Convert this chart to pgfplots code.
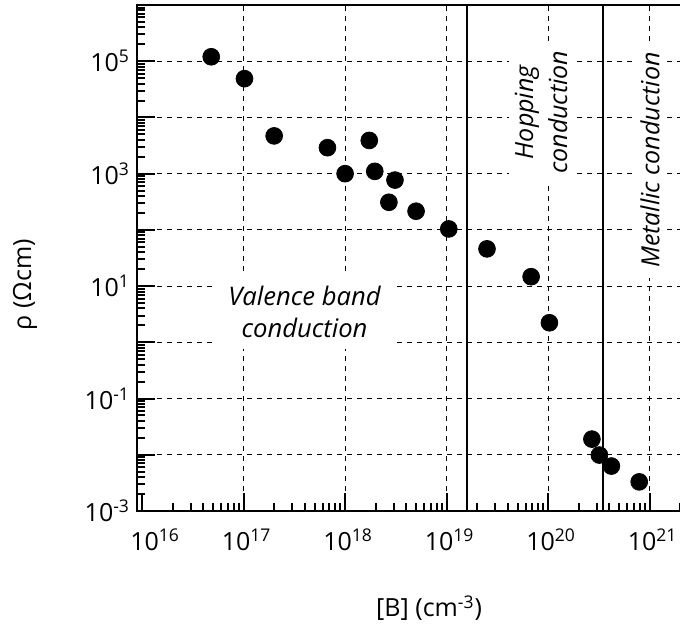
\documentclass[border=0pt]{standalone}
\usepackage{fontspec}
\setmainfont{Open Sans}
\usepackage{pgfplots}
\pgfplotsset{compat=1.18}
\usepackage{pgfplotstable}

\pgfplotstableread{
x y
4.8e16 1.20e5
1.02e17 4.9e4
2.0e17 4.7e3
6.7e17 2.9e3
1.0e18 1.0e3
1.73e18 3.9e3
1.96e18 1.1e3
3.1e18 7.7e2
2.7e18 3.1e2
5.0e18 2.15e2
1.05e19 1.04e2
2.5e19 46
6.8e19 14.7
1.03e20 2.23
2.7e20 0.019
3.2e20 0.0099
4.2e20 0.0063
7.9e20 0.0033
}\datatable

\def\minorx{9e15}
\foreach \e in {16,...,21}{\foreach \m in {2,...,9}{\xdef\minorx{\minorx,\m e\e}}}
\def\minory{2e-3}
\foreach \m in {3,...,9}{\xdef\minory{\minory,\m e-3}}
\foreach \e in {-2,...,5}{\foreach \m in {2,...,9}{\xdef\minory{\minory,\m e\e}}}

\begin{document}
\begin{tikzpicture}
\begin{axis}[
  xmode=log, ymode=log,
  scale only axis,
  width=276.6pt, height=253pt,
  xmin=8.9125e15, xmax=2.5119e21,
  ymin=1e-3, ymax=1e6,
  font=\fontsize{12.5}{15}\selectfont,
  /pgf/number format/assume math mode=true,
  tick pos=left,
  tick align=inside,
  xtick={1e17,1e18,1e19,1e20,1e21},
  xticklabels={10\textsuperscript{17},10\textsuperscript{18},10\textsuperscript{19},10\textsuperscript{20},10\textsuperscript{21}},
  extra x ticks={1e16},
  extra x tick labels={10\textsuperscript{16}},
  extra x tick style={grid=none, xticklabel style={xshift=5pt}},
  minor xtick/.expanded={\minorx},
  ytick={1e-3,1e-2,1e-1,1,10,100,1e3,1e4,1e5,1e6},
  yticklabels={10\textsuperscript{-3},,10\textsuperscript{-1},,10\textsuperscript{1},,10\textsuperscript{3},,10\textsuperscript{5},},
  minor ytick/.expanded={\minory},
  major tick length=9pt,
  minor tick length=4pt,
  every tick/.style={black, line width=1pt},
  axis line style={line width=1.3pt},
  xmajorgrids, ymajorgrids,
  major grid style={black, line width=0.5pt, dash pattern=on 2.5pt off 2.5pt},
  xlabel={[B] (cm\textsuperscript{-3})},
  ylabel={ρ (Ωcm)},
  xlabel style={at={(axis description cs:0.528,-0.192)}, anchor=center},
  ylabel style={at={(axis description cs:-0.2025,0.447)}, anchor=center, rotate=0},
  xticklabel style={yshift=-5.5pt, xshift=1.5pt},
]
\addplot[black, line width=1pt] coordinates {(1.59e19,1e-3) (1.59e19,1e6)};
\addplot[black, line width=1pt] coordinates {(3.48e20,1e-3) (3.48e20,1e6)};
\addplot[only marks, mark=*, mark size=4.2pt, black] table[x=x,y=y] {\datatable};
\node[fill=white, align=center, font=\itshape\fontsize{12.8}{16}\selectfont, inner xsep=6pt, inner ysep=6pt] at (axis cs:3.98e17,3.55) {Valence band\\conduction};
\node[fill=white, align=center, rotate=90, font=\itshape\fontsize{12.5}{17}\selectfont, inner xsep=4pt, inner ysep=3pt] at (axis cs:8.5e19,1.24e4) {Hopping\\conduction};
\node[fill=white, align=center, rotate=90, font=\itshape\fontsize{12.5}{16}\selectfont, inner xsep=5pt, inner ysep=3pt] at (axis cs:1.01e21,1.74e3) {Metallic conduction};
\end{axis}
\pgfresetboundingbox
\useasboundingbox (-68.5pt,-58.5pt) rectangle (271.5pt,255.5pt);
\end{tikzpicture}
\end{document}
